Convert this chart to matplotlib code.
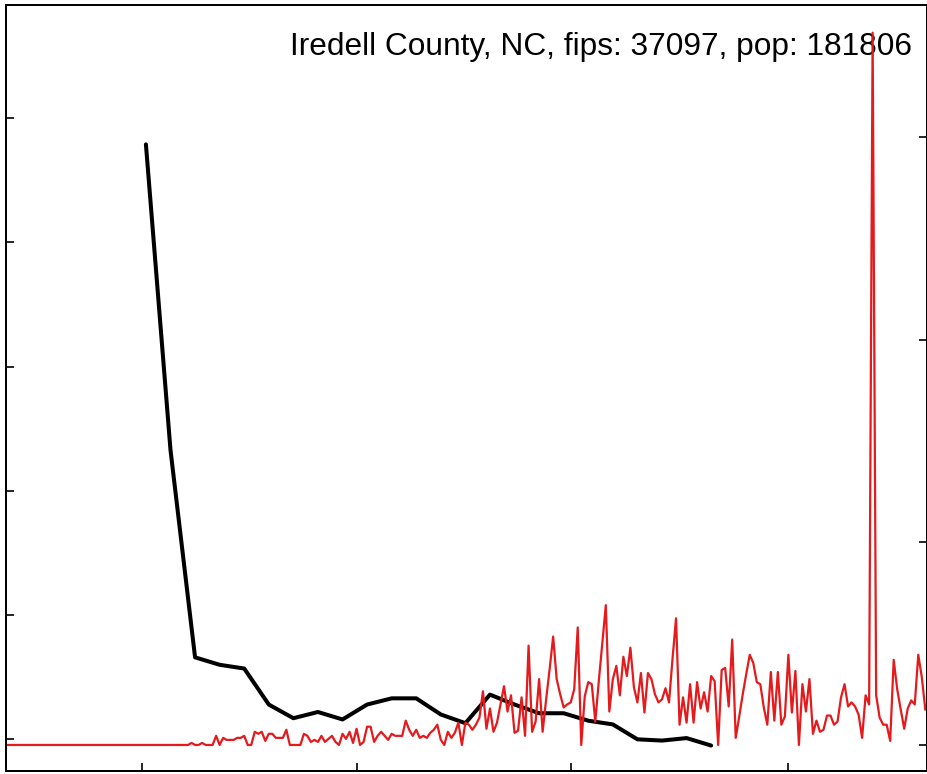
import matplotlib
matplotlib.use("Agg")
import matplotlib.pyplot as plt
import pandas as pd

# daily new cases (red), starting 2020-01-22
daily_cases = [
    0, 0, 0, 0, 0, 0, 0, 0, 0, 0, 0, 0, 0, 0, 0, 0, 0, 0, 0, 0,
    0, 0, 0, 0, 0, 0, 0, 0, 0, 0, 0, 0, 0, 0, 0, 0, 0, 0, 0, 0,
    0, 0, 0, 0, 0, 0, 0, 0, 0, 0, 0, 0, 0,
    2, 0, 0, 2, 0, 0, 0, 9, 0, 7, 5, 5, 5, 7, 7, 9, 0, 0, 13, 11,
    13, 4, 11, 11, 7, 7, 7, 15, 0, 0, 0, 0, 11, 9, 3, 5, 3, 9, 3, 6,
    9, 3, 0, 11, 6, 13, 2, 16, 0, 3, 18, 18, 3, 9, 13, 9, 5, 11, 9, 9,
    9, 24, 15, 9, 15, 7, 9, 7, 12, 15, 20, 5, 0, 13, 7, 12, 22, 0, 22, 20,
    15, 20, 27, 53, 16, 36, 13, 22, 40, 58, 33, 49, 12, 14, 47, 9, 98, 13, 23, 65,
    13, 45, 75, 107, 65, 50, 37, 40, 42, 55, 116, 0, 48, 62, 60, 23, 63, 100, 138, 33,
    65, 78, 49, 87, 68, 96, 57, 42, 71, 32, 71, 65, 50, 42, 45, 56, 42, 85, 125, 20,
    47, 22, 60, 22, 62, 36, 52, 33, 68, 63, 0, 74, 76, 38, 104, 7, 28, 50, 70, 89,
    81, 62, 60, 37, 20, 72, 24, 72, 20, 28, 89, 32, 73, 0, 60, 33, 65, 11, 24, 13,
    15, 29, 29, 20, 23, 47, 60, 38, 42, 38, 30, 7, 49, 40, 703, 49, 27, 20, 20, 4,
    84, 55, 35, 16, 36, 44, 40, 89, 67, 35,
]

# weekly series (black), starting 2020-03-02
weekly_values = [
    4.79, 2.33, 0.66, 0.60, 0.57, 0.28, 0.17, 0.22, 0.16, 0.28, 0.33, 0.33,
    0.20, 0.13, 0.36, 0.28, 0.21, 0.21, 0.15, 0.12, 0.00, -0.01, 0.01, -0.05,
]

tick_dates = ['2020-03-01', '2020-05-01', '2020-07-01', '2020-09-01']
left_ticks = [0, 1, 2, 3, 4, 5]
right_ticks = [0, 200, 400, 600]
title = "Iredell County, NC, fips: 37097, pop: 181806"

start = pd.Timestamp('2020-01-22')
daily_dates = pd.date_range(start, periods=len(daily_cases), freq='D')
weekly_dates = pd.date_range('2020-03-02', periods=len(weekly_values), freq='7D')

fig = plt.figure(figsize=(9.28, 7.74), dpi=100)
ax = fig.add_axes([6.5 / 928, 3 / 774, 920.2 / 928, 766 / 774])

ax.plot(weekly_dates, weekly_values, color='black', linewidth=2.9,
        solid_joinstyle='round', solid_capstyle='round')
ax.set_xlim(start + pd.Timedelta(days=0.29), start + pd.Timedelta(days=262.4))
ax.set_ylim(-0.255, 5.912)
ax.set_xticks(pd.to_datetime(tick_dates))
ax.set_yticks(left_ticks)
ax.tick_params(direction='in', length=6, width=1.2,
               labelleft=False, labelbottom=False)
ax.xaxis.set_ticklabels([])
ax.yaxis.set_ticklabels([])

ax2 = ax.twinx()
ax2.plot(daily_dates, daily_cases, color='#e41a1c', linewidth=1.6)
ax2.set_ylim(-25.7, 730.3)
ax2.set_yticks(right_ticks)
ax2.tick_params(direction='in', length=6, width=1.2, labelright=False)
ax2.yaxis.set_ticklabels([])

for a in (ax, ax2):
    for sp in a.spines.values():
        sp.set_linewidth(1.3)

ax.text(0.984, 0.9347, title, transform=ax.transAxes, ha='right', va='baseline',
        fontsize=22.8, family=['Liberation Sans', 'DejaVu Sans'])

fig.savefig('out.png', dpi=100)
